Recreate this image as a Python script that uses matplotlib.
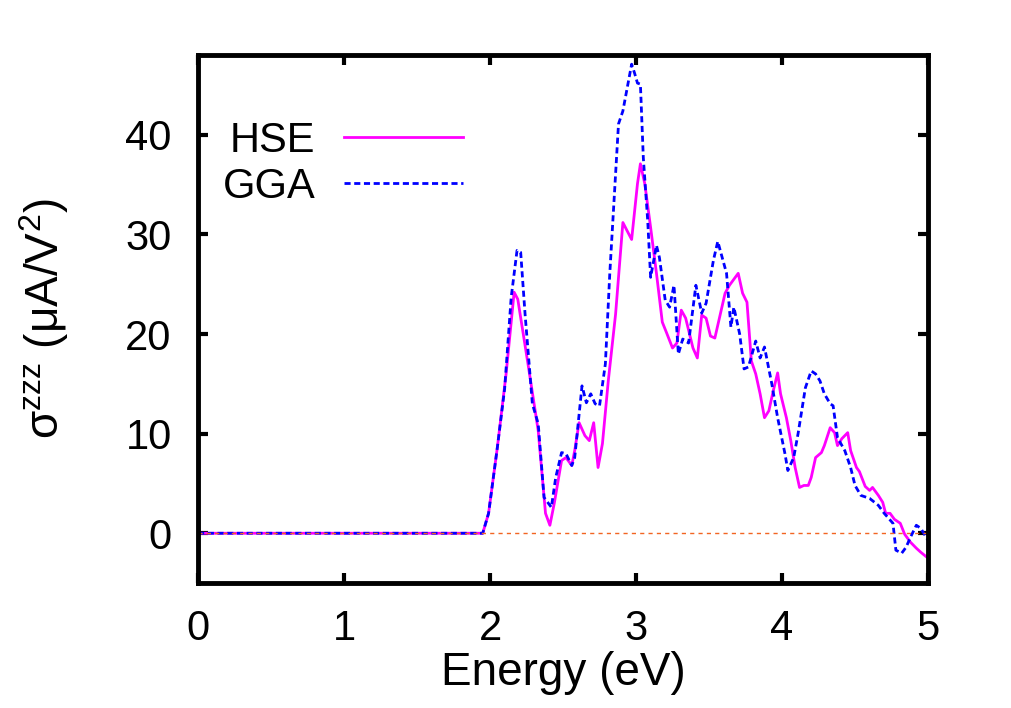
import matplotlib
matplotlib.use('Agg')
import matplotlib.pyplot as plt

plt.rcParams['font.family'] = ['Liberation Sans', 'DejaVu Sans']
plt.rcParams['mathtext.fontset'] = 'custom'
plt.rcParams['mathtext.rm'] = 'Liberation Sans'

# HSE curve (energy in eV, sigma in uA/V^2)
hse_e = [0.0, 1.95, 1.99, 2.05, 2.11, 2.165, 2.19, 2.26, 2.33, 2.38, 2.41, 2.44,
         2.49, 2.52, 2.56, 2.58, 2.61, 2.65, 2.68, 2.71, 2.74, 2.77, 2.81, 2.86,
         2.91, 2.945, 2.97, 3.01, 3.03, 3.06, 3.10, 3.14, 3.18, 3.21, 3.25, 3.28,
         3.31, 3.34, 3.39, 3.42, 3.45, 3.48, 3.51, 3.54, 3.61, 3.64, 3.70, 3.73,
         3.76, 3.79, 3.82, 3.85, 3.88, 3.91, 3.94, 3.97, 3.99, 4.03, 4.06, 4.09,
         4.12, 4.15, 4.18, 4.20, 4.23, 4.27, 4.29, 4.33, 4.36, 4.38, 4.41, 4.45,
         4.47, 4.51, 4.53, 4.57, 4.60, 4.62, 4.66, 4.69, 4.71, 4.74, 4.77, 4.81,
         4.84, 4.88, 4.92, 4.95, 5.0]
hse_s = [0.0, 0.0, 2.0, 8.6, 16.0, 24.2, 23.5, 17.0, 10.3, 2.0, 0.8, 3.0,
         7.3, 7.6, 6.8, 8.3, 11.1, 9.8, 9.3, 11.1, 6.6, 9.0, 15.3, 22.0,
         31.2, 30.2, 29.5, 35.1, 37.1, 35.1, 30.7, 26.1, 21.2, 20.1, 18.6, 19.1,
         22.4, 21.6, 18.6, 17.6, 21.9, 21.6, 19.8, 19.6, 24.1, 24.9, 26.1, 24.1,
         23.2, 17.3, 16.0, 14.0, 11.6, 12.3, 14.3, 16.1, 14.0, 11.6, 9.3, 6.6,
         4.6, 4.8, 4.8, 5.6, 7.6, 8.1, 8.8, 10.6, 10.1, 8.8, 9.5, 10.1,
         8.3, 6.6, 6.2, 4.7, 4.3, 4.6, 3.8, 3.1, 2.0, 2.0, 1.4, 1.0,
         -0.1, -0.9, -1.5, -1.9, -2.5]

# GGA curve
gga_e = [0.0, 1.95, 1.99, 2.05, 2.10, 2.145, 2.185, 2.21, 2.24, 2.29, 2.33, 2.37,
         2.42, 2.45, 2.49, 2.52, 2.56, 2.58, 2.63, 2.66, 2.69, 2.72, 2.75, 2.79,
         2.82, 2.88, 2.91, 2.97, 2.99, 3.01, 3.03, 3.05, 3.08, 3.10, 3.14, 3.16,
         3.20, 3.23, 3.26, 3.29, 3.32, 3.36, 3.41, 3.45, 3.48, 3.53, 3.56, 3.62,
         3.65, 3.67, 3.71, 3.74, 3.77, 3.82, 3.85, 3.88, 3.93, 3.97, 4.02, 4.04,
         4.08, 4.11, 4.16, 4.20, 4.23, 4.26, 4.29, 4.33, 4.35, 4.38, 4.43, 4.47,
         4.50, 4.54, 4.60, 4.66, 4.70, 4.76, 4.78, 4.82, 4.85, 4.88, 4.92, 4.95, 5.0]
gga_s = [0.0, 0.0, 2.0, 8.6, 14.5, 23.7, 28.4, 28.2, 22.0, 13.0, 11.0, 3.6,
         2.6, 5.6, 8.1, 8.0, 6.8, 7.6, 14.8, 13.1, 14.0, 13.0, 12.8, 17.0,
         26.0, 41.1, 42.4, 47.1, 46.2, 45.2, 45.1, 37.7, 31.4, 25.7, 28.9, 27.7,
         23.4, 22.7, 24.9, 18.0, 19.5, 19.1, 24.9, 22.1, 23.1, 27.4, 29.3, 26.1,
         20.7, 22.7, 20.0, 16.5, 16.7, 19.3, 17.6, 18.7, 15.0, 11.6, 8.0, 6.3,
         7.6, 10.0, 14.6, 16.3, 16.0, 15.3, 14.0, 13.0, 12.8, 9.6, 8.3, 6.6,
         4.8, 3.8, 3.5, 2.8, 2.0, 1.0, -1.7, -2.0, -1.4, -0.4, 0.8, 0.5, -0.7]

x_ticks = [0, 1, 2, 3, 4, 5]
y_ticks = [0, 10, 20, 30, 40]

fig = plt.figure(figsize=(10.12, 7.08), dpi=100)
ax = fig.add_axes([0.1957, 0.1765, 0.7213, 0.7455])

ax.plot(hse_e, hse_s, color='#ff00ff', lw=2.0, label='HSE')
ax.plot(gga_e, gga_s, color='#0000ff', lw=2.0, dashes=(2.2, 1.3), label='GGA')
ax.plot([0, 5], [0, 0], color='#f26522', lw=1.0, dashes=(3, 3))

ax.set_xlim(0, 5)
ax.set_ylim(-5, 48)
ax.set_xticks(x_ticks)
ax.set_yticks(y_ticks)
ax.tick_params(direction='in', length=7, width=3, labelsize=30,
               top=True, right=True, pad=19)
for s in ax.spines.values():
    s.set_linewidth(3.5)

ax.set_xlabel('Energy (eV)', fontsize=33, labelpad=1)
ax.set_ylabel('σ$^{\\mathregular{zzz}}$ (μA/V$^{\\mathregular{2}}$)', fontsize=33, labelpad=39)

ax.legend(loc='upper left', bbox_to_anchor=(-0.006, 0.931), frameon=False,
          markerfirst=False, fontsize=30, handlelength=2.86, handletextpad=0.67,
          labelspacing=0.15, borderaxespad=0.3)

fig.savefig('out.png', dpi=100)
